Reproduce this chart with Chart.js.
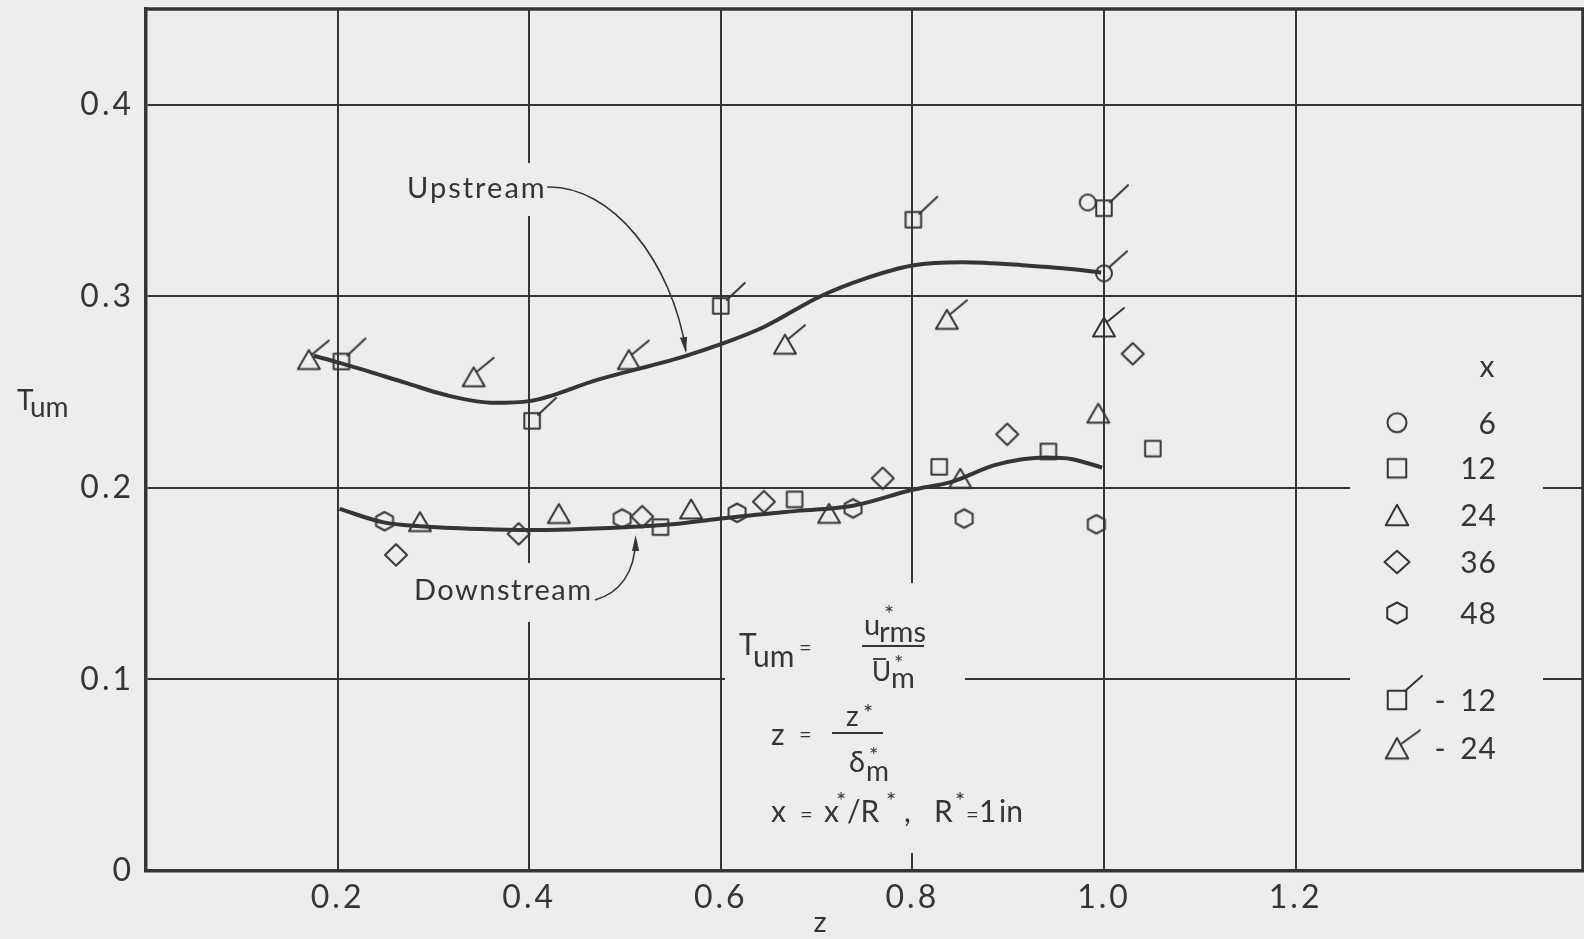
<!DOCTYPE html>
<html>
<head>
<meta charset="utf-8">
<title>Tum versus z</title>
<script src="https://cdn.jsdelivr.net/npm/chart.js@4.4.1/dist/chart.umd.min.js"></script>
<style>
  html, body { margin: 0; padding: 0; background: #ededeb; overflow: hidden; }
  #wrap { width: 1584px; height: 939px; overflow: hidden; }
  canvas { display: block; }
</style>
</head>
<body>
<div id="wrap"><canvas id="chart" width="1592" height="939"></canvas></div>
<script>
// ---- axis ticks ----
const xTickValues = [0.2, 0.4, 0.6, 0.8, 1.0, 1.2];
const yTickValues = [0, 0.1, 0.2, 0.3, 0.4];

// ---- measured points, z and T_um, per station x ----
const x6_z = [0.983];
const x6_T = [0.349];

const x6flag_z = [1.000];
const x6flag_T = [0.312];

const x12_z = [0.537, 0.677, 0.828, 0.942, 1.051];
const x12_T = [0.1795, 0.194, 0.211, 0.219, 0.2205];

const x24_z = [0.286, 0.431, 0.569, 0.713, 0.850, 0.994];
const x24_T = [0.1824, 0.1866, 0.189, 0.1867, 0.205, 0.239];

const x36_z = [0.261, 0.389, 0.518, 0.645, 0.769, 0.899, 1.030];
const x36_T = [0.165, 0.176, 0.185, 0.1928, 0.205, 0.228, 0.270];

const x48_z = [0.249, 0.497, 0.617, 0.738, 0.854, 0.992];
const x48_T = [0.1826, 0.184, 0.187, 0.1893, 0.184, 0.181];

const xm12_z = [0.204, 0.403, 0.600, 0.801, 1.000];
const xm12_T = [0.266, 0.235, 0.295, 0.340, 0.346];

const xm24_z = [0.170, 0.342, 0.504, 0.667, 0.836, 1.000];
const xm24_T = [0.267, 0.258, 0.267, 0.275, 0.288, 0.284];

// ---- faired curves ----
const upstream_z = [0.175, 0.204, 0.272, 0.312, 0.364, 0.400, 0.471, 0.562, 0.600, 0.645, 0.703, 0.749, 0.800, 0.853, 0.922, 0.957, 0.997];
const upstream_T = [0.269, 0.265, 0.2547, 0.2486, 0.2444, 0.2453, 0.2564, 0.2687, 0.275, 0.284, 0.2998, 0.309, 0.3161, 0.3178, 0.316, 0.3147, 0.3125];

const downstream_z = [0.202, 0.248, 0.286, 0.350, 0.400, 0.500, 0.550, 0.600, 0.680, 0.738, 0.800, 0.840, 0.887, 0.940, 0.967, 0.998];
const downstream_T = [0.189, 0.182, 0.180, 0.1785, 0.178, 0.1795, 0.181, 0.184, 0.188, 0.1907, 0.199, 0.203, 0.212, 0.2158, 0.215, 0.2106];

// ---- legend ----
const legendLabels = ['6', '12', '24', '36', '48', '12', '24'];

const INK = '#353535';
const PAPER = '#ededeb';
const FONT = 'Lato, "Open Sans", sans-serif';

const pts = (xs, ys) => xs.map((v, i) => ({ x: v, y: ys[i] }));

// draws one plotting symbol onto a small canvas centred on the point
function symbol(shape, w, h, flag) {
  const S = 72;
  const c = document.createElement('canvas');
  c.width = S; c.height = S;
  const g = c.getContext('2d');
  g.translate(S / 2, S / 2);
  g.strokeStyle = INK;
  g.lineWidth = 2;
  g.lineJoin = 'round';
  g.lineCap = 'round';
  const a = w / 2, b = h / 2;
  g.beginPath();
  if (shape === 'circle') g.ellipse(0, 0, a, b, 0, 0, Math.PI * 2);
  else if (shape === 'square') g.rect(-a, -b, w, h);
  else if (shape === 'triangle') { g.moveTo(0, -b); g.lineTo(a, b); g.lineTo(-a, b); g.closePath(); }
  else if (shape === 'diamond') { g.moveTo(0, -b); g.lineTo(a, 0); g.lineTo(0, b); g.lineTo(-a, 0); g.closePath(); }
  else if (shape === 'hexagon') {
    g.moveTo(0, -b); g.lineTo(a, -b / 2); g.lineTo(a, b / 2);
    g.lineTo(0, b); g.lineTo(-a, b / 2); g.lineTo(-a, -b / 2); g.closePath();
  }
  g.stroke();
  if (flag) {
    g.beginPath(); g.moveTo(flag[0], flag[1]); g.lineTo(flag[2], flag[3]); g.stroke();
  }
  return c;
}

const sym = {
  circle:   symbol('circle', 16, 16),
  square:   symbol('square', 15.5, 15.5),
  triangle: symbol('triangle', 22, 19),
  diamond:  symbol('diamond', 22, 21.5),
  hexagon:  symbol('hexagon', 17, 18.5),
  circleF:  symbol('circle', 16, 16, [5, -6, 23, -22]),
  squareF:  symbol('square', 15.5, 15.5, [6, -6, 24, -23]),
  triangleF: symbol('triangle', 22, 19, [3, -5, 20, -19])
};
const legendSym = [
  symbol('circle', 19, 19),
  symbol('square', 18.5, 18.5),
  symbol('triangle', 22.5, 20.5),
  symbol('diamond', 25, 22.5),
  symbol('hexagon', 19.5, 21),
  symbol('square', 18.5, 18.5, [8, -9, 25, -24]),
  symbol('triangle', 22.5, 20.5, [5, -5, 23, -18])
];

function markerSet(label, xs, ys, img) {
  return {
    label, data: pts(xs, ys), showLine: false,
    pointStyle: img, pointRadius: 8, pointHoverRadius: 8,
    borderColor: INK, backgroundColor: 'transparent'
  };
}
function curveSet(label, xs, ys) {
  return {
    label, data: pts(xs, ys), showLine: true,
    borderColor: INK, borderWidth: 4, pointRadius: 0,
    cubicInterpolationMode: 'monotone', fill: false
  };
}

// annotation layer: frame, label gaps, leaders, formulas, legend, axis titles
const annotate = {
  id: 'annotate',
  beforeDraw(chart) {
    // lettering on the axes is widely spaced
    chart.ctx.letterSpacing = '3px';
  },
  beforeDatasetsDraw(chart) {
    const ctx = chart.ctx, A = chart.chartArea;
    ctx.save();
    // clear the rule lines behind lettering
    ctx.fillStyle = PAPER;
    ctx.fillRect(398, 163, 154, 53);    // Upstream
    ctx.fillRect(408, 563, 192, 59);    // Downstream
    ctx.fillRect(725, 583, 240, 270);   // definitions
    ctx.fillRect(1350, 330, 193, 460);  // key
    // top and right frame
    ctx.strokeStyle = INK; ctx.lineWidth = 3.5;
    ctx.beginPath();
    ctx.moveTo(A.left - 1.5, A.top); ctx.lineTo(A.right, A.top); ctx.lineTo(A.right, A.bottom);
    ctx.stroke();
    ctx.restore();
  },
  afterDatasetsDraw(chart) {
    const ctx = chart.ctx;
    const f = (s) => `${s}px ${FONT}`;
    ctx.save();
    ctx.letterSpacing = '0px';
    ctx.fillStyle = INK; ctx.strokeStyle = INK;
    ctx.textAlign = 'left'; ctx.textBaseline = 'alphabetic';

    const arrow = (x, y, ang) => {
      const L = 16, W = 3.6;
      ctx.beginPath();
      ctx.moveTo(x, y);
      ctx.lineTo(x - L * Math.cos(ang) + W * Math.sin(ang), y - L * Math.sin(ang) - W * Math.cos(ang));
      ctx.lineTo(x - L * Math.cos(ang) - W * Math.sin(ang), y - L * Math.sin(ang) + W * Math.cos(ang));
      ctx.closePath(); ctx.fill();
    };

    // curve labels with leaders
    ctx.font = f(29);
    ctx.letterSpacing = '2px';
    ctx.fillText('Upstream', 407, 198);
    ctx.letterSpacing = '1.5px';
    ctx.fillText('Downstream', 414, 600);
    ctx.letterSpacing = '0px';
    ctx.lineWidth = 1.6;
    ctx.beginPath(); ctx.moveTo(547, 187); ctx.bezierCurveTo(612, 185, 672, 262, 686, 351); ctx.stroke();
    arrow(686, 353, Math.atan2(351 - 262, 686 - 672));
    ctx.beginPath(); ctx.moveTo(595, 600); ctx.bezierCurveTo(620, 593, 635, 572, 635.6, 540); ctx.stroke();
    arrow(635.6, 535, -Math.PI / 2);

    // definitions
    ctx.font = f(30); ctx.fillText('T', 739, 655);
    ctx.font = f(30); ctx.fillText('um', 753, 667);
    ctx.font = f(22); ctx.fillText('=', 799, 655);
    ctx.font = f(29); ctx.fillText('u', 864, 635);
    ctx.font = f(24); ctx.fillText('*', 884, 622);
    ctx.font = f(29); ctx.fillText('rms', 879, 642);
    ctx.lineWidth = 2;
    ctx.beginPath(); ctx.moveTo(862, 646); ctx.lineTo(924, 646); ctx.stroke();
    ctx.font = f(26); ctx.fillText('U', 872, 681);
    ctx.lineWidth = 1.8;
    ctx.beginPath(); ctx.moveTo(873, 659); ctx.lineTo(886, 659); ctx.stroke();
    ctx.font = f(22); ctx.fillText('*', 894, 671);
    ctx.font = f(29); ctx.fillText('m', 891, 688);

    ctx.font = f(30); ctx.fillText('z', 771, 745);
    ctx.font = f(22); ctx.fillText('=', 799, 742);
    ctx.font = f(28); ctx.fillText('z', 846, 726);
    ctx.font = f(24); ctx.fillText('*', 863, 721);
    ctx.lineWidth = 2;
    ctx.beginPath(); ctx.moveTo(832, 733); ctx.lineTo(883, 733); ctx.stroke();
    ctx.font = f(29); ctx.fillText('\u03b4', 849, 772);
    ctx.font = f(22); ctx.fillText('*', 869, 763);
    ctx.font = f(28); ctx.fillText('m', 866, 781);

    const line3 = [['x', 771, 0, 30], ['=', 800, 0, 22], ['x', 824, 0, 30], ['*', 836, -13, 24],
                   ['/R', 847, 0, 30], ['*', 886, -13, 24], [',', 904, 0, 30], ['R', 934, 0, 30],
                   ['*', 955, -13, 24], ['=', 966, 0, 22], ['1', 979, 0, 30], ['in', 999, 0, 30]];
    for (const [t, x, dy, s] of line3) { ctx.font = f(s); ctx.fillText(t, x, 822 + dy); }

    // key
    ctx.font = f(30);
    ctx.textAlign = 'center';
    ctx.fillText('x', 1487, 377);
    const keyY = [422.7, 468.3, 515, 562, 613, 700, 748.3];
    legendLabels.forEach((lab, i) => {
      const img = legendSym[i];
      ctx.drawImage(img, 1397 - img.width / 2, keyY[i] - img.height / 2);
      ctx.textAlign = 'right';
      ctx.letterSpacing = '1px';
      ctx.fillText(lab, 1497, keyY[i] + 11);
      ctx.letterSpacing = '0px';
      if (i >= 5) { ctx.textAlign = 'center'; ctx.fillText('-', 1440, keyY[i] + 11); }
    });

    // axis titles
    ctx.textAlign = 'left';
    ctx.font = f(28); ctx.fillText('T', 17, 410);
    ctx.font = f(28); ctx.fillText('um', 30, 417);
    ctx.textAlign = 'center';
    ctx.font = f(29); ctx.fillText('z', 820, 932);
    ctx.restore();
  }
};

const fmtX = (v) => v.toFixed(1);
const fmtY = (v) => (Math.abs(v) < 1e-9 ? '0' : (Math.round(v * 10) / 10).toFixed(1));

new Chart(document.getElementById('chart'), {
  type: 'scatter',
  data: {
    datasets: [
      curveSet('Upstream', upstream_z, upstream_T),
      curveSet('Downstream', downstream_z, downstream_T),
      markerSet('6', x6_z, x6_T, sym.circle),
      markerSet('-6', x6flag_z, x6flag_T, sym.circleF),
      markerSet('12', x12_z, x12_T, sym.square),
      markerSet('24', x24_z, x24_T, sym.triangle),
      markerSet('36', x36_z, x36_T, sym.diamond),
      markerSet('48', x48_z, x48_T, sym.hexagon),
      markerSet('-12', xm12_z, xm12_T, sym.squareF),
      markerSet('-24', xm24_z, xm24_T, sym.triangleF)
    ]
  },
  options: {
    responsive: false,
    animation: false,
    events: [],
    layout: { padding: { left: 0, right: 2, top: 4, bottom: 0 } },
    plugins: { legend: { display: false }, tooltip: { enabled: false } },
    scales: {
      x: {
        type: 'linear', min: 0, max: 1.5,
        afterBuildTicks: (s) => { s.ticks = xTickValues.map(v => ({ value: v })); },
        afterFit: (s) => { s.height = 68; s.paddingLeft = 0; s.paddingRight = 0; },
        grid: { color: INK, lineWidth: 2, drawTicks: false },
        border: { display: true, color: INK, width: 3.5 },
        ticks: { color: INK, font: { family: FONT, size: 32 }, padding: 7, callback: fmtX, maxRotation: 0 }
      },
      y: {
        type: 'linear', min: 0, max: 0.45,
        afterBuildTicks: (s) => { s.ticks = yTickValues.map(v => ({ value: v })); },
        afterFit: (s) => { s.width = 146; s.paddingTop = 0; s.paddingBottom = 0; },
        grid: { color: INK, lineWidth: 2, drawTicks: false },
        border: { display: true, color: INK, width: 3.5 },
        ticks: { color: INK, font: { family: FONT, size: 32 }, padding: 12, callback: fmtY }
      }
    }
  },
  plugins: [annotate]
});
</script>
</body>
</html>
